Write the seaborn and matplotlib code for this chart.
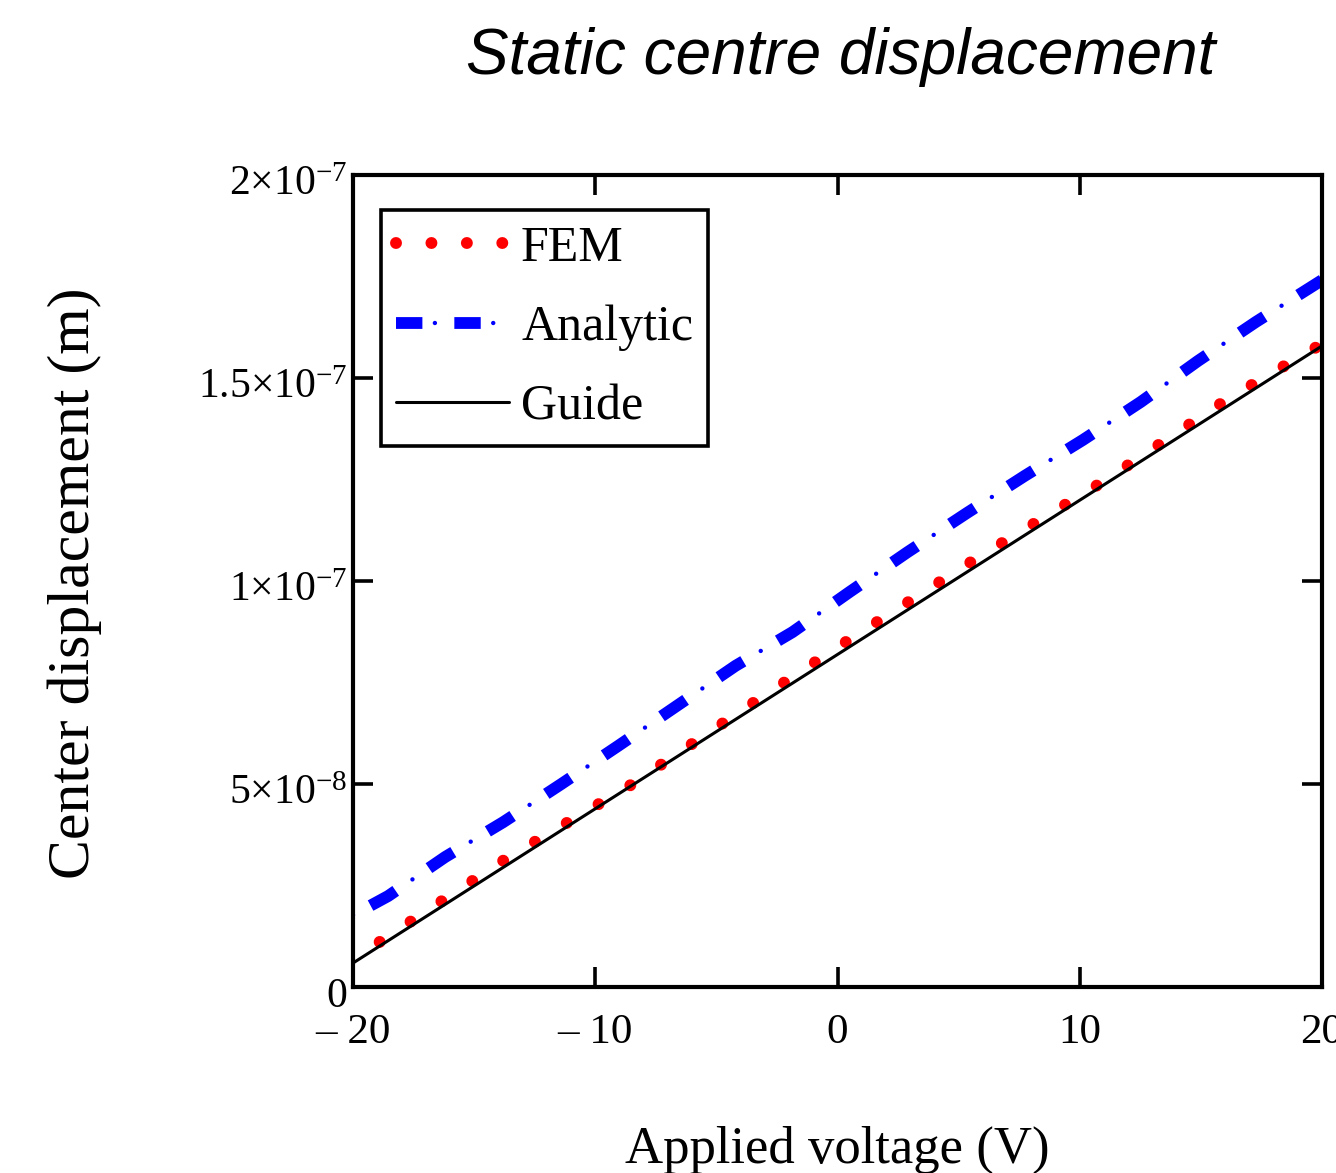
import numpy as np
import pandas as pd
import matplotlib
matplotlib.use("Agg")
import matplotlib.pyplot as plt
import matplotlib.transforms as mtransforms
import seaborn as sns
from matplotlib.lines import Line2D
from matplotlib.legend_handler import HandlerTuple
from matplotlib.ticker import FixedLocator, FixedFormatter

# ---------------- data ----------------
title = "Static centre displacement"
x_label = "Applied voltage (V)"
y_label = "Center displacement (m)"
series_names = ["FEM", "Analytic", "Guide"]

x_ticks = [-20, -10, 0, 10, 20]
x_tick_labels = ["– 20", "– 10", "0", "10", "20"]
y_ticks = [0, 5e-8, 1e-7, 1.5e-7, 2e-7]
y_tick_labels = ["0", r"$5{\times}10^{-8}$", r"$1{\times}10^{-7}$",
                 r"$1.5{\times}10^{-7}$", r"$2{\times}10^{-7}$"]

fem_voltage = [-18.9, -13.7, -8.6, -3.5, 0.4, 5.7, 11.0, 16.1, 20.0]
fem_disp = [1.11e-8, 3.15e-8, 4.95e-8, 6.99e-8, 8.52e-8, 1.054e-7,
            1.246e-7, 1.448e-7, 1.584e-7]

analytic_voltage = [-20.0, -18.55, -16.2, -13.8, -11.4, -9.05, -6.57, -4.21,
                    -1.86, 0.5, 2.89, 5.33, 7.73, 10.12, 12.52, 14.88, 17.27, 20.0]
analytic_disp = [1.77e-8, 2.24e-8, 3.20e-8, 4.06e-8, 5.00e-8, 5.94e-8, 6.95e-8,
                 7.91e-8, 8.74e-8, 9.73e-8, 1.071e-7, 1.167e-7, 1.259e-7,
                 1.347e-7, 1.441e-7, 1.542e-7, 1.638e-7, 1.741e-7]

guide_voltage = [-20.0, 20.0]
guide_disp = [5.9e-9, 1.579e-7]

# ---------------- style ----------------
sns.set_style("ticks")
plt.rcParams["font.family"] = ["Liberation Serif", "DejaVu Serif"]
plt.rcParams["mathtext.fontset"] = "custom"
plt.rcParams["mathtext.rm"] = "Liberation Serif"
plt.rcParams["mathtext.it"] = "Liberation Serif:italic"
plt.rcParams["mathtext.default"] = "regular"
plt.rcParams["lines.scale_dashes"] = False
for k in ["text.color", "axes.labelcolor", "xtick.color", "ytick.color",
          "axes.edgecolor", "axes.titlecolor"]:
    plt.rcParams[k] = "black"

W, H = 1336, 1173
fig = plt.figure(figsize=(W / 100, H / 100), dpi=100)
ax_l, ax_r, ax_b, ax_t = 353, 1322, 987, 175
ax = fig.add_axes([ax_l / W, (H - ax_b) / H, (ax_r - ax_l) / W, (ax_b - ax_t) / H])

fem_df = pd.DataFrame({"V": fem_voltage, "d": fem_disp})
ana_df = pd.DataFrame({"V": analytic_voltage, "d": analytic_disp})
gui_df = pd.DataFrame({"V": guide_voltage, "d": guide_disp})

RED, BLUE, BLACK = "#ff0000", "#0000ff", "#000000"

# FEM : round dotted line
sns.lineplot(data=fem_df, x="V", y="d", ax=ax, sort=False, estimator=None,
             color=RED, linewidth=8.6, legend=False)
l_fem = ax.lines[-1]
l_fem.set_linestyle((0, (0.01, 26.6)))
l_fem.set_dash_capstyle("round")

# Analytic : thick dashes + small dots (dash-dot)
sns.lineplot(data=ana_df, x="V", y="d", ax=ax, sort=False, estimator=None,
             color=BLUE, linewidth=8.5, legend=False)
l_ana1 = ax.lines[-1]
l_ana1.set_linestyle((35.6, (21, 29)))
l_ana1.set_dash_capstyle("butt")
sns.lineplot(data=ana_df, x="V", y="d", ax=ax, sort=False, estimator=None,
             color=BLUE, linewidth=3.2, legend=False)
l_ana2 = ax.lines[-1]
l_ana2.set_linestyle((0, (0.01, 49.99)))
l_ana2.set_dash_capstyle("round")

# Guide : solid black
sns.lineplot(data=gui_df, x="V", y="d", ax=ax, sort=False, estimator=None,
             color=BLACK, linewidth=2.2, legend=False)

ax.set_xlim(-20, 20)
ax.set_ylim(0, 2e-7)

ax.xaxis.set_major_locator(FixedLocator(x_ticks))
ax.xaxis.set_major_formatter(FixedFormatter(x_tick_labels))
ax.yaxis.set_major_locator(FixedLocator(y_ticks))
ax.yaxis.set_major_formatter(FixedFormatter(y_tick_labels))

for s in ax.spines.values():
    s.set_visible(True)
    s.set_linewidth(3.0)
    s.set_color("black")

ax.tick_params(axis="both", which="major", direction="in", length=14.5, width=2.6,
               top=True, right=True, color="black", labelcolor="black")
ax.tick_params(axis="x", pad=19, labelsize=31)
ax.tick_params(axis="y", pad=4, labelsize=30)
shift = mtransforms.ScaledTranslation(0, -3.5 / 72, fig.dpi_scale_trans)
for t in ax.yaxis.get_majorticklabels():
    t.set_transform(t.get_transform() + shift)

ax.set_xlabel(x_label, fontsize=38)
ax.xaxis.label.set_va("center")
ax.xaxis.set_label_coords((837 - ax_l) / (ax_r - ax_l), (ax_b - 1150) / (ax_b - ax_t))
ax.set_ylabel(y_label, fontsize=43)
ax.yaxis.label.set_va("center")
ax.yaxis.set_label_coords((75 - ax_l) / (ax_r - ax_l), (ax_b - 583) / (ax_b - ax_t))

ax.set_title(title, fontsize=46, fontstyle="italic", family="Liberation Sans",
             color="black",
             x=(841 - ax_l) / (ax_r - ax_l), y=(ax_b - 65) / (ax_b - ax_t), va="center")

# legend proxies
h_fem = Line2D([], [], color=RED, linewidth=8.6, linestyle=(0, (0.01, 25.5)),
               dash_capstyle="round")
h_ana1 = Line2D([], [], color=BLUE, linewidth=8.5, linestyle=(0, (19, 23)),
                dash_capstyle="butt")
h_ana2 = Line2D([], [], color=BLUE, linewidth=3.2, linestyle=(14, (0.01, 41.99)),
                dash_capstyle="round")
h_gui = Line2D([], [], color=BLACK, linewidth=2.2)

leg = ax.legend([h_fem, (h_ana1, h_ana2), h_gui], series_names,
                handler_map={tuple: HandlerTuple(ndivide=1)},
                loc="upper left",
                bbox_to_anchor=((381 - ax_l) / (ax_r - ax_l), (ax_b - 210) / (ax_b - ax_t)),
                borderaxespad=0, fontsize=36, frameon=True, fancybox=False,
                edgecolor="black", framealpha=1, handlelength=2.25,
                handletextpad=0.25, labelspacing=0.66, borderpad=0.3)
leg.get_frame().set_linewidth(2.6)
for t in leg.get_texts():
    t.set_color("black")

fig.savefig("out.png", dpi=100)
